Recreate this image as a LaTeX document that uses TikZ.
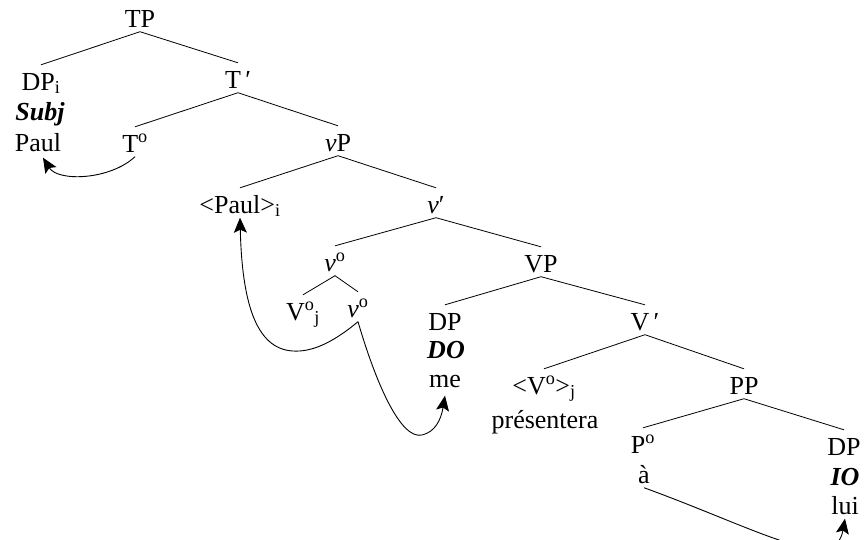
\documentclass[tikz,border=0pt]{standalone}
\usepackage{fontspec}
\setmainfont{Liberation Serif}
\usetikzlibrary{arrows.meta,calc}
\begin{document}
\begin{tikzpicture}[x=1pt,y=-1pt,
  lab/.style={anchor=base, inner xsep=0pt, inner ysep=4.5pt, text height=20.5pt, text depth=0pt, font=\fontsize{26}{31}\selectfont},
  branch/.style={line width=0.8pt},
  mv/.style={line width=0.9pt, -{Stealth[length=15pt,width=13pt,inset=3pt]}}]
\useasboundingbox (0,0) rectangle (864,539);
\clip (0,0) rectangle (864,539);
% nodes
\node[lab] (TP) at (140,27) {TP};
\node[lab] (DPi) at (41,90) {DP\textsubscript{i}};
\node[lab] (Subj) at (40,120) {\textbf{\textit{Subj}}};
\node[lab] (Paul) at (38,151) {Paul};
\node[lab] (Tbar) at (238,88) {T\,′};
\node[lab] (To) at (135,152) {T\textsuperscript{o}};
\node[lab] (vP) at (338,151) {\textit{v}P};
\node[lab] (Paulc) at (240,213) {<Paul>\textsubscript{i}};
\node[lab] (vbar) at (436,213) {\textit{v}′};
\node[lab] (vo) at (335,271) {\textit{v}\textsuperscript{o}};
\node[lab] (VP) at (541,272) {VP};
\node[lab] (Voj) at (303,320) {V\textsuperscript{o}\textsubscript{j}};
\node[lab] (vo2) at (358,317) {\textit{v}\textsuperscript{o}};
\node[lab] (DP1) at (445,330) {DP};
\node[lab] (DO) at (446,358) {\textbf{\textit{DO}}};
\node[lab] (me) at (445,387) {me};
\node[lab] (Vbar) at (645,330) {V\,′};
\node[lab] (Vc) at (544,394) {<V\textsuperscript{o}>\textsubscript{j}};
\node[lab] (pres) at (545,428) {présentera};
\node[lab] (PP) at (744,394) {PP};
\node[lab] (Po) at (643,453) {P\textsuperscript{o}};
\node[lab] (a) at (644,483) {à};
\node[lab] (DP2) at (844,455) {DP};
\node[lab] (IO) at (845,485) {\textbf{\textit{IO}}};
\node[lab] (lui) at (845,514) {lui};
% branches
\draw[branch] (DPi.north) -- (TP.south) -- (Tbar.north);
\draw[branch] (To.north) -- (Tbar.south) -- (vP.north);
\draw[branch] (Paulc.north) -- (vP.south) -- (vbar.north);
\draw[branch] (vo.north) -- (vbar.south) -- (VP.north);
\draw[branch] (Voj.north) -- (vo.south) -- (vo2.north);
\draw[branch] (DP1.north) -- (VP.south) -- (Vbar.north);
\draw[branch] (Vc.north) -- (Vbar.south) -- (PP.north);
\draw[branch] (Po.north) -- (PP.south) -- (DP2.north);
% movement arrows
\draw[mv] (To.south) .. controls (110,180) and (58,182) .. ($(Paul.south)+(5,2)$);
\draw[mv] (vo2.south) .. controls (330,345) and (310,352) .. (293,351) .. controls (255,349) and (242,300) .. (Paulc.south);
\draw[mv] (vo2.south) .. controls (375,380) and (400,440) .. (422,435) .. controls (435,432) and (441,420) .. ($(me.south)+(0,4)$);
\draw[mv] (a.south) .. controls (760,530) and (835,575) .. (lui.south);
\end{tikzpicture}
\end{document}
